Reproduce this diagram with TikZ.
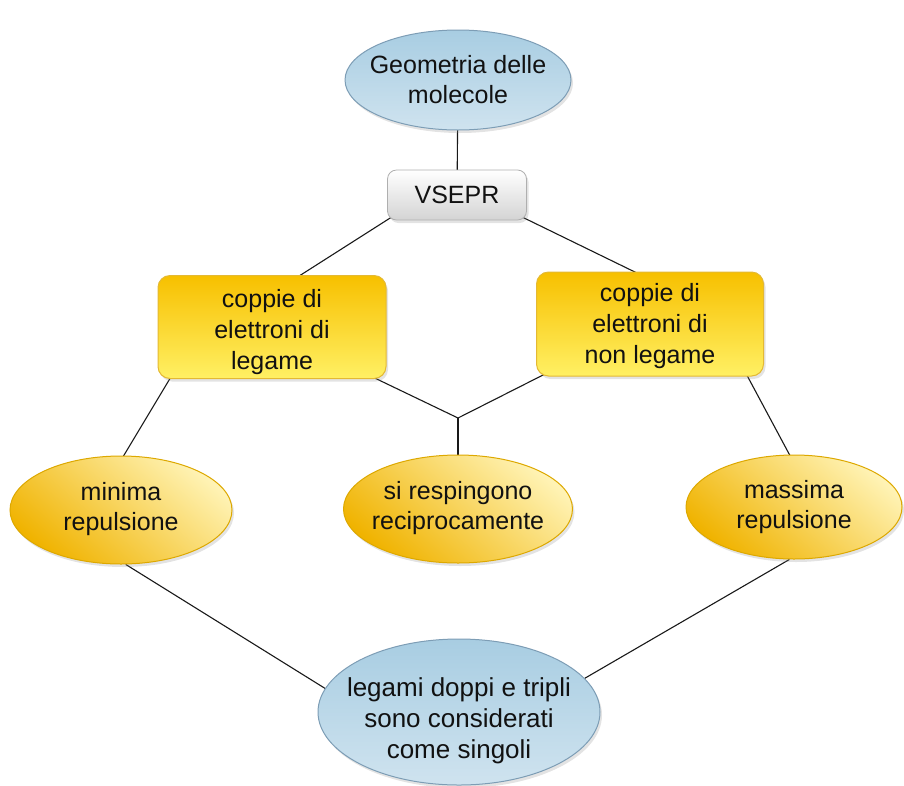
\documentclass[tikz,border=0pt]{standalone}
\usepackage{fontspec}
\setmainfont{Liberation Sans}
\usetikzlibrary{shapes.geometric,shadows,backgrounds,calc}
\definecolor{blueedge}{HTML}{7D9DB5}
\definecolor{blueA}{HTML}{A8CDE2}
\definecolor{blueB}{HTML}{EEF6FB}
\definecolor{blueC}{HTML}{CFE3EF}
\definecolor{yedge}{HTML}{DDA800}
\definecolor{yA}{HTML}{F0B300}
\definecolor{yB}{HTML}{FFF3B5}
\definecolor{boxA}{HTML}{F7C000}
\definecolor{boxB}{HTML}{FFF064}
\definecolor{greyedge}{HTML}{AFAFAF}
\definecolor{txtcol}{HTML}{111111}
\tikzset{
  txt/.style={font=\fontsize{25}{30}\selectfont, text=txtcol, align=center, inner sep=0pt},
  boxtxt/.style={txt, font=\fontsize{25}{31}\selectfont},
  bigtxt/.style={txt, font=\fontsize{26}{31}\selectfont},
  shad/.style={drop shadow={opacity=0.22, shadow xshift=2pt, shadow yshift=-3pt}},
  blueell/.style={ellipse, draw=blueedge, line width=1pt, top color=blueA, middle color=blueB, bottom color=blueC, shad, inner sep=0pt},
  yell/.style={ellipse, draw=yedge, line width=1pt, top color=yB, bottom color=yA, shading angle=-40, shad, inner sep=0pt},
  ybox/.style={rectangle, rounded corners=12pt, draw=yedge!80, line width=1pt, top color=boxA, bottom color=boxB, shad, inner sep=0pt},
  gbox/.style={rectangle, rounded corners=9pt, draw=greyedge, line width=0.8pt, top color=white, bottom color=black!17, shad, inner sep=0pt},
  conn/.style={draw=black!90, line width=1.1pt}
}
\begin{document}
\begin{tikzpicture}[x=1pt,y=-1pt]
\useasboundingbox (0,0) rectangle (904,785);
\node[blueell, minimum width=226pt, minimum height=100pt, label={[txt]center:{Geometria delle\\molecole}}] (geo) at (458,80) {};
\node[gbox, minimum width=139pt, minimum height=50pt, label={[txt]center:VSEPR}] (vsepr) at (457,195) {};
\node[ybox, minimum width=228pt, minimum height=103pt, label={[boxtxt, yshift=-5pt]center:{coppie di\\elettroni di\\legame}}] (lb) at (272,327) {};
\node[ybox, minimum width=227pt, minimum height=104pt, label={[boxtxt, yshift=-2pt]center:{coppie di\\elettroni di\\non legame}}] (rb) at (650,324) {};
\node[yell, minimum width=222pt, minimum height=108pt, label={[txt, yshift=1pt]center:{minima\\repulsione}}] (mini) at (121,510) {};
\node[yell, minimum width=229pt, minimum height=108pt, label={[txt, yshift=1pt]center:{si respingono\\reciprocamente}}] (resp) at (458,509) {};
\node[yell, minimum width=216pt, minimum height=104pt, label={[txt]center:{massima\\repulsione}}] (mass) at (794,507) {};
\node[blueell, minimum width=282pt, minimum height=146pt, label={[bigtxt, yshift=-9pt]center:{legami doppi e tripli\\sono considerati\\come singoli}}] (leg) at (459,712) {};
\coordinate (junc) at (458,418);
\begin{pgfonlayer}{background}
\draw[conn] (geo.center) -- (vsepr.center);
\draw[conn] ($(vsepr.south west)+(4,-3)$) -- ($(lb.north)+(24,3)$);
\draw[conn] ($(vsepr.south east)+(-4,-3)$) -- ($(rb.north)+(-10,3)$);
\draw[conn] ($(lb.south west)+(14,-3)$) -- ($(mini.north)+(1,3)$);
\draw[conn] ($(rb.south east)+(-18,-3)$) -- ($(mass.north)+(-3,3)$);
\draw[conn] ($(lb.south east)+(-16,-3)$) -- (junc);
\draw[conn] ($(rb.south west)+(10,-3)$) -- (junc);
\draw[conn] (junc) -- (resp.center);
\draw[conn] (mini.-85) -- (leg.170);
\draw[conn] (mass.-95) -- (leg.15);
\end{pgfonlayer}
\end{tikzpicture}
\end{document}
